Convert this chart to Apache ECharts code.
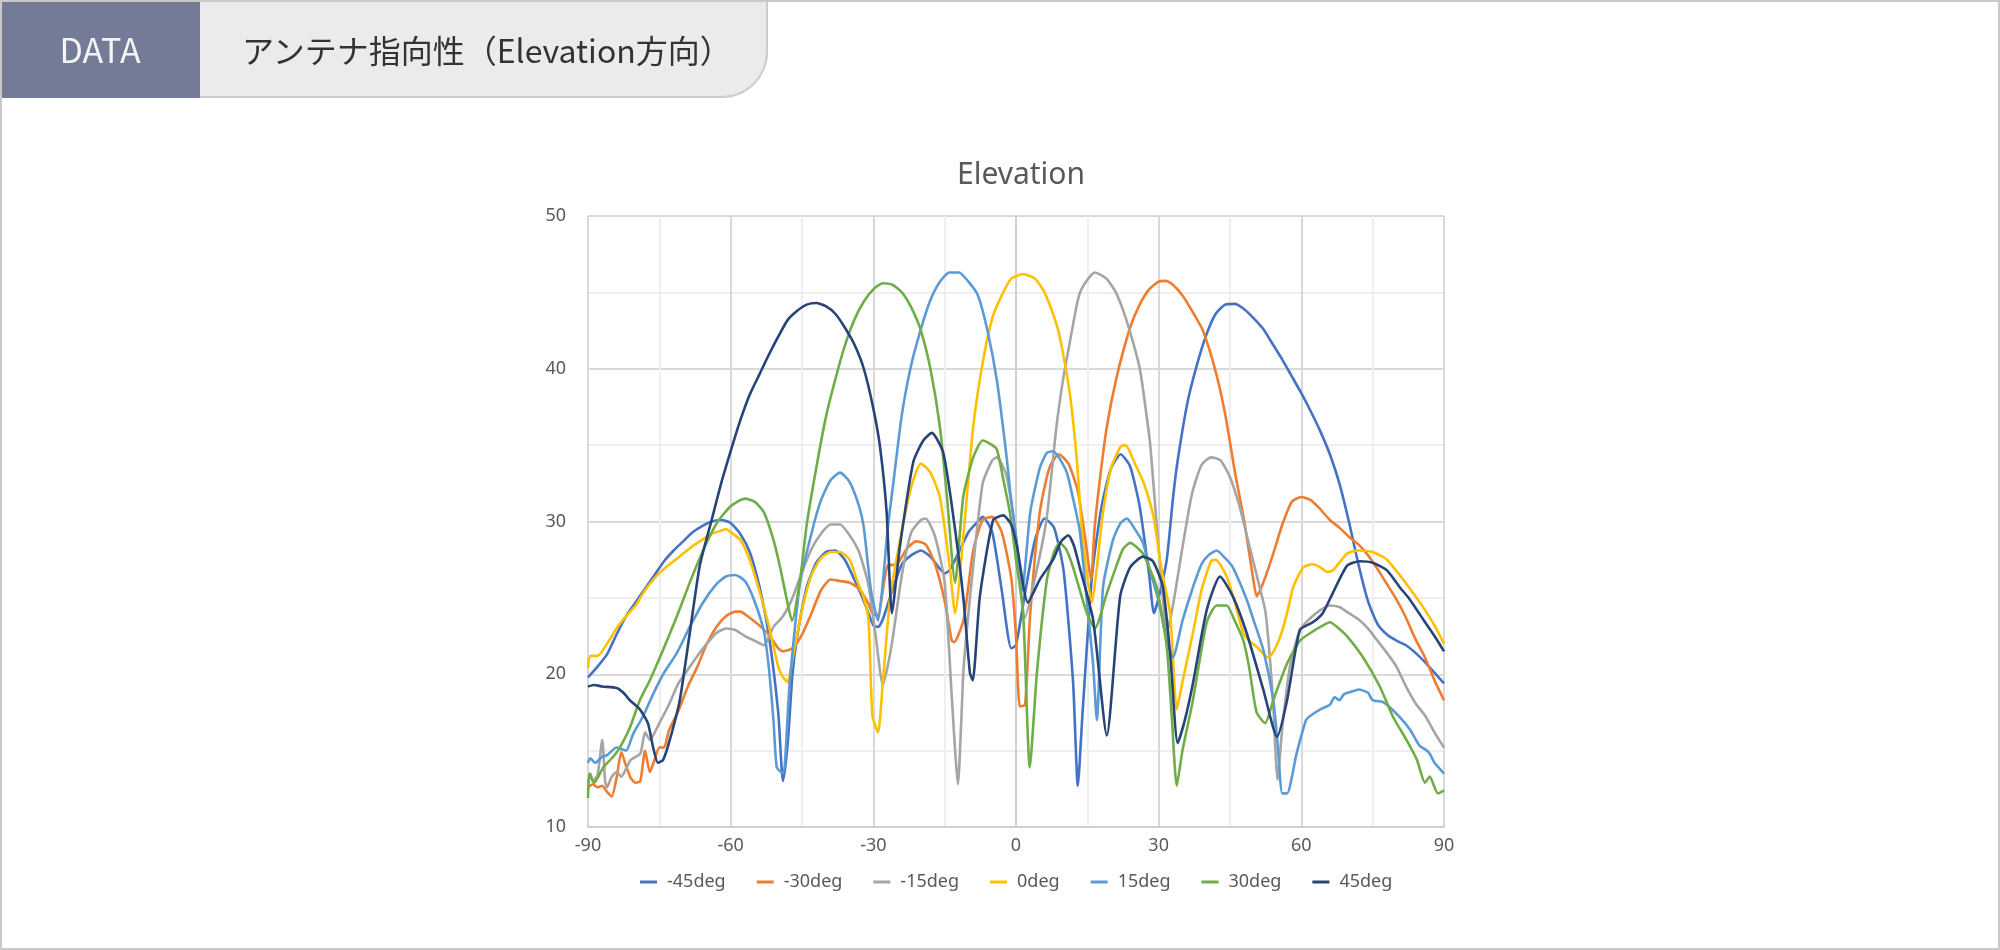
<!DOCTYPE html>
<html>
<head>
<meta charset="utf-8">
<title>アンテナ指向性（Elevation方向）</title>
<script src="https://cdn.jsdelivr.net/npm/echarts@6/dist/echarts.min.js"></script>
<style>
    html, body { margin: 0; padding: 0; background: #ffffff; }
    #page { position: relative; width: 2000px; height: 950px; overflow: hidden; }
    #chart { position: absolute; left: 0; top: 0; width: 2000px; height: 950px; }
    #frame { position: absolute; left: 0; top: 0; width: 2000px; height: 950px; box-sizing: border-box; border: 2px solid #c9c9c9; pointer-events: none; }
    #tab { position: absolute; left: 0; top: 0; width: 768px; height: 98px; box-sizing: border-box; background: #ebebeb;
           border-right: 2px solid #cbcbcb; border-bottom: 2px solid #cbcbcb; border-bottom-right-radius: 46px; }
    #tag { position: absolute; left: 0; top: 0; width: 200px; height: 98px; background: #737b96; color: #f4f4f4;
           font-family: "Noto Sans CJK JP", "Noto Sans", sans-serif; font-size: 34px; line-height: 98px; text-align: center; }
    #head { position: absolute; left: 242px; top: 0; height: 98px; line-height: 98px; color: #333333;
            font-family: "Noto Sans CJK JP", sans-serif; font-size: 32px; white-space: nowrap; }
</style>
</head>
<body>
<div id="page">
    <div id="chart"></div>
    <div id="tab"></div>
    <div id="tag">DATA</div>
    <div id="head">アンテナ指向性（Elevation方向）</div>
    <div id="frame"></div>
</div>
<script>
// 凡例の名前と色
var seriesNames = ['-45deg', '-30deg', '-15deg', '0deg', '15deg', '30deg', '45deg'];
var seriesColors = ['#4472c4', '#ed7d31', '#a5a5a5', '#ffc000', '#5b9bd5', '#70ad47', '#264478'];

// 各系列 [角度, 値]
var d_m45 = [[-90,19.8],[-88,20.5],[-86,21.3],[-84,22.6],[-82,23.8],[-80,24.7],[-78,25.6],[-76,26.5],[-74,27.4],[-72,28.1],[-70,28.7],[-68,29.3],[-66,29.7],[-64,30.0],[-62,30.1],[-60,29.9],[-58,29.2],[-56,28.0],[-54,25.8],[-52,22.6],[-50,17.5],[-49,13.0],[-48,15.5],[-47,20.0],[-46,22.5],[-44,25.7],[-42,27.3],[-40,28.0],[-38,28.1],[-36,27.5],[-34,26.2],[-32,24.8],[-30,23.2],[-29,23.1],[-28,23.6],[-26,25.5],[-24,27.2],[-22,27.8],[-20,28.1],[-18,27.7],[-16,26.9],[-15,26.6],[-14,26.8],[-12,28.0],[-10,29.3],[-8,30.0],[-7,30.3],[-5,29.3],[-3,25.5],[-1,21.7],[0,21.9],[2,25.5],[4,28.8],[6,30.2],[8,29.6],[10,26.8],[12,19.5],[13,12.7],[14,17.5],[16,26.5],[18,31.0],[20,33.5],[22,34.4],[24,33.6],[26,31.0],[28,26.5],[29,24.0],[30,25.0],[31.7,27.5],[33,31.5],[34,34.0],[36,37.7],[38,40.2],[40,42.2],[42,43.6],[44,44.2],[46,44.25],[48,43.9],[50,43.3],[52,42.6],[54,41.6],[56,40.6],[58,39.5],[60,38.4],[62,37.2],[64,35.9],[66,34.4],[68,32.5],[70,30.0],[72,27.2],[74,24.8],[76,23.3],[78,22.6],[80,22.2],[82,21.9],[84,21.4],[86,20.8],[88,20.1],[90,19.4]];

var d_m30 = [[-90,12.6],[-89,12.8],[-88,12.6],[-87,12.7],[-86,12.3],[-85,12.0],[-84,13.2],[-83,14.9],[-82,14.0],[-81,13.2],[-80,12.9],[-79,13.0],[-78,15.0],[-77,13.6],[-76,14.4],[-75,15.2],[-74,15.2],[-73,16.3],[-71,17.6],[-69,19.2],[-67,20.5],[-65,22.0],[-63,23.1],[-61,23.8],[-59,24.1],[-58,24.1],[-56,23.7],[-54,23.2],[-52,22.6],[-50,21.7],[-49,21.5],[-47,21.7],[-45,22.6],[-43,24.0],[-41,25.5],[-39,26.2],[-37,26.1],[-35,26.0],[-33,25.6],[-31,24.6],[-30,23.9],[-29,23.9],[-28,25.5],[-27,27.1],[-25,27.2],[-23,28.2],[-21,28.7],[-19,28.5],[-17,27.2],[-15,24.8],[-13.5,22.2],[-13,22.1],[-11,23.6],[-9,28.1],[-7,30.1],[-5,30.3],[-3,29.3],[-1,26.3],[0,22.5],[0.8,17.9],[1.9,18.0],[3,24.0],[5,30.6],[7,33.5],[9,34.4],[11,33.8],[13,32.0],[14.5,29.0],[15.8,26.2],[16.5,29.5],[17.7,32.9],[19.1,36.2],[21.2,39.5],[24,42.7],[26,44.2],[28,45.2],[30,45.7],[31.5,45.75],[33,45.5],[35,44.8],[37,43.8],[39.3,42.5],[42,39.8],[44,37.0],[46,33.3],[48,30.0],[50,26.0],[50.6,25.1],[52,26.0],[54,27.8],[56,29.8],[58,31.3],[60,31.6],[62,31.4],[64,30.8],[66,30.1],[68,29.6],[70,29.0],[72,28.5],[74,27.8],[76,26.9],[78,25.9],[80,24.9],[82,23.7],[84,22.3],[86,21.1],[88,19.6],[90,18.3]];

var d_m15 = [[-90,12.9],[-89.5,13.5],[-89,13.0],[-88,13.4],[-87,15.7],[-86.4,13.0],[-86,12.6],[-85,13.3],[-84,13.6],[-83,13.3],[-82,13.8],[-81,14.4],[-79,14.8],[-78,16.2],[-77,15.7],[-75,16.8],[-73,18.0],[-71,19.4],[-69,20.3],[-67,21.2],[-65,22.0],[-63,22.7],[-61,23.0],[-59,22.9],[-57,22.5],[-55,22.2],[-53,21.9],[-52,22.4],[-51,23.1],[-49,23.8],[-47,25.0],[-45,26.7],[-43,28.2],[-41,29.2],[-39,29.8],[-37,29.8],[-35,29.1],[-33,28.0],[-31,25.8],[-29.5,22.5],[-28,19.3],[-27,20.5],[-26,22.2],[-24,26.5],[-22,29.3],[-20,30.1],[-19,30.2],[-17,29.0],[-15,26.0],[-13.5,18.5],[-12.2,12.8],[-11.5,17.0],[-11,20.5],[-9,27.1],[-7,32.5],[-5,34.0],[-4,34.2],[-2,33.0],[0,29.0],[1.9,23.7],[4,26.3],[6.4,30.1],[8.5,36.2],[10,39.5],[11.3,41.7],[13,44.5],[14.1,45.4],[16.6,46.3],[19,45.9],[21,45.0],[23,43.4],[25,41.3],[26.1,39.9],[27,38.0],[28.2,35.1],[29.6,29.7],[30.5,26.5],[31.7,22.7],[33,24.5],[35,28.3],[37,31.8],[39,33.7],[41,34.2],[43,34.0],[45,32.9],[47,31.0],[49,28.5],[51,26.0],[52.5,24.0],[54,18.5],[55,13.1],[56,16.5],[57.6,20.5],[59.7,22.9],[62,23.7],[64,24.2],[66,24.5],[68,24.4],[70,24.0],[72,23.6],[74,23.0],[76,22.2],[78,21.4],[80,20.5],[82,19.2],[84,18.1],[86,17.3],[88,16.2],[90,15.2]];

var d_0 = [[-90,20.4],[-89.5,21.2],[-88,21.2],[-86,22.0],[-84,23.0],[-82,23.8],[-80,24.5],[-78,25.5],[-76,26.3],[-74,26.9],[-72,27.4],[-70,27.9],[-68,28.4],[-66,28.8],[-64,29.2],[-62,29.4],[-61,29.5],[-60,29.3],[-58,28.8],[-56,27.5],[-54,25.5],[-52,23.2],[-50,20.5],[-49,19.8],[-48,19.5],[-47,21.0],[-45,24.2],[-43,26.5],[-41,27.6],[-39,28.0],[-37,28.0],[-35,27.5],[-33.5,26.2],[-32,25.0],[-31,23.5],[-30.2,17.3],[-29,16.2],[-28,19.5],[-26.5,24.9],[-24.5,28.6],[-22,32.3],[-20,33.8],[-18,33.2],[-16,31.6],[-14,27.2],[-12.8,24.0],[-11,29.3],[-9,36.2],[-7,40.4],[-5,43.3],[-3,44.8],[-1,45.9],[1.5,46.2],[4,45.9],[6,45.0],[8,43.4],[9.2,42.1],[11.3,38.4],[12.8,34.0],[14.1,28.6],[16,24.7],[17,27.0],[18.3,30.6],[20,33.5],[22,34.9],[23,35.0],[25,33.8],[27,32.4],[29,30.2],[30.5,27.0],[32.4,24.0],[33.8,17.7],[35,19.5],[37.2,22.7],[39,25.5],[41,27.4],[42,27.5],[44.3,26.4],[46,24.7],[47.8,22.7],[49,22.2],[50.6,21.8],[53,21.1],[54,21.4],[55.5,22.4],[57,24.0],[58.3,25.7],[60.4,27.0],[62.4,27.2],[64,27.0],[65.4,26.7],[66.6,26.8],[68,27.3],[69.6,27.9],[72,28.1],[75,28.0],[78,27.5],[81.4,26.2],[84,25.1],[86,24.2],[88,23.2],[90,22.0]];

var d_p15 = [[-90,14.2],[-89.5,14.5],[-88.5,14.2],[-87,14.6],[-86,14.7],[-84,15.2],[-82,15.0],[-80.5,16.1],[-78.5,17.2],[-76.3,18.7],[-74.2,20.0],[-71.3,21.4],[-68.6,23.1],[-65.8,24.7],[-63,25.9],[-61,26.4],[-59,26.5],[-57,26.1],[-55,24.8],[-53,22.8],[-52,20.5],[-51,17.0],[-50.3,13.9],[-49,13.5],[-47.6,19.4],[-45.4,26.0],[-42.7,29.6],[-41,31.4],[-39,32.7],[-37,33.2],[-35,32.6],[-33,31.0],[-32,29.6],[-30.5,25.5],[-29,23.5],[-28,26.0],[-27,29.5],[-26,32.0],[-24,37.0],[-22,40.3],[-20,42.6],[-18,44.5],[-16,45.7],[-14,46.3],[-12,46.3],[-10,45.7],[-8,44.8],[-6,42.5],[-4,39.2],[-2,34.3],[-1.2,31.9],[0,29.0],[1.3,25.5],[3,30.6],[5,33.5],[6.5,34.5],[7.8,34.6],[9,34.2],[10.7,33.2],[12,31.5],[13.4,29.4],[15,24.5],[16.2,20.7],[17,17.0],[18.3,25.7],[20.4,28.8],[22,29.9],[23.3,30.2],[25,29.5],[26.7,28.6],[28,27.0],[30,24.8],[31.5,22.5],[33,21.1],[35,23.5],[37,25.5],[39,27.2],[40.5,27.8],[42.2,28.1],[44,27.6],[45.6,27.0],[48.5,24.9],[50,23.5],[52,21.6],[54.1,18.3],[55,15.5],[56,12.2],[57,12.2],[59,14.8],[61,17.0],[62,17.3],[64,17.7],[66,18.0],[67,18.5],[68,18.3],[69,18.7],[71,18.9],[72,19.0],[74,18.8],[75,18.3],[77,18.2],[78,18.0],[80.7,17.2],[82.8,16.4],[84.9,15.3],[86,15.1],[87,14.8],[88,14.2],[90,13.5]];

var d_p30 = [[-90,11.9],[-89.7,13.5],[-88.7,12.9],[-86.8,13.9],[-84.7,14.6],[-83.3,15.2],[-81.2,16.5],[-79.1,18.3],[-77,19.6],[-74.2,21.6],[-71.3,23.8],[-68.6,26.0],[-65.8,28.1],[-62.9,29.9],[-60,31.0],[-57,31.5],[-55,31.3],[-53,30.6],[-51,28.8],[-49.6,27.0],[-48.2,24.9],[-47.1,23.5],[-45.4,26.2],[-44,29.8],[-42,33.5],[-40,36.8],[-38,39.3],[-36,41.5],[-34,43.2],[-32,44.4],[-30,45.2],[-28,45.6],[-26,45.5],[-24,45.0],[-22,44.0],[-20,42.5],[-18,40.0],[-16,36.2],[-14.6,31.9],[-12.8,26.0],[-11.1,31.6],[-9,34.2],[-7,35.3],[-5,35.0],[-4,34.7],[-2.5,32.5],[-1.3,30.6],[0,27.5],[1.5,24.0],[2.9,13.9],[4.4,20.1],[6.5,26.2],[8,28.0],[9.2,28.6],[10.5,28.2],[12,27.0],[14.9,24.0],[16.6,23.0],[19.1,25.3],[21,27.0],[22.5,28.2],[24,28.6],[26.7,27.9],[28,27.0],[29.6,25.7],[31.7,21.8],[32.8,17.0],[33.8,12.7],[35,15.0],[37.2,18.3],[40.1,23.4],[42.2,24.5],[44.3,24.5],[46,23.5],[47.8,22.2],[49,20.5],[50.6,17.5],[52.4,16.8],[54.1,18.3],[57,20.7],[59.7,22.2],[62.4,22.8],[64,23.1],[66,23.4],[67.5,23.1],[69.6,22.5],[73,21.1],[76.5,19.2],[79.3,17.2],[82.1,15.7],[84.3,14.4],[86,12.9],[87,13.3],[88.7,12.2],[90,12.4]];

var d_p45 = [[-90,19.2],[-88.7,19.3],[-87,19.2],[-84,19.1],[-82.6,18.8],[-81.2,18.3],[-79.1,17.7],[-77.4,16.8],[-76.3,15.2],[-75.3,14.2],[-74.2,14.4],[-72.8,15.7],[-70.7,18.3],[-68.6,22.7],[-66.5,27.1],[-64,30.1],[-62,32.5],[-60,34.6],[-58,36.6],[-56,38.3],[-54,39.6],[-52,40.9],[-50,42.1],[-48,43.2],[-46,43.8],[-44,44.2],[-42,44.3],[-40,44.1],[-38,43.6],[-36,42.7],[-34,41.6],[-32,40.0],[-30,37.4],[-28.6,34.9],[-27.2,30.6],[-26.1,24.0],[-24.4,28.4],[-21.6,33.9],[-19.5,35.3],[-17.7,35.8],[-15.3,34.5],[-13.3,30.6],[-11.1,25.1],[-9.7,20.1],[-9.1,19.6],[-7.6,25.1],[-4.8,30.1],[-2.7,30.4],[-1,29.8],[0.2,28.4],[2.5,24.7],[5,26.2],[7.8,27.5],[9.5,28.7],[11,29.1],[12.2,28.4],[13.4,27.0],[16.2,23.6],[19.1,16.0],[21.9,25.1],[24,27.0],[26.7,27.7],[28.8,27.4],[30.9,25.7],[32.5,21.0],[34,15.5],[35.5,17.0],[37.2,19.4],[40.1,24.2],[42.9,26.4],[45.6,25.1],[48.5,22.7],[52,19.0],[54.9,15.9],[57,18.3],[59.7,22.9],[62.4,23.4],[64.5,24.0],[66.6,25.3],[69.6,27.1],[72.3,27.4],[75,27.3],[78,26.8],[80.7,25.7],[82.8,24.9],[85.6,23.6],[88,22.5],[90,21.5]];

var seriesData = [d_m45, d_m30, d_m15, d_0, d_p15, d_p30, d_p45];

// 軸の範囲
var xMin = -90, xMax = 90, xStep = 30;
var yMin = 10, yMax = 50, yStep = 10;

var chart = echarts.init(document.getElementById('chart'));

var series = [];
for (var i = 0; i < seriesNames.length; i++) {
    series.push({
        name: seriesNames[i],
        type: 'line',
        data: seriesData[i],
        showSymbol: false,
        symbol: 'none',
        smooth: 0.2,
        lineStyle: { width: 2.6, color: seriesColors[i] },
        itemStyle: { color: seriesColors[i] },
        animation: false
    });
}

var axisFont = { color: '#595959', fontSize: 18, fontFamily: 'Noto Sans, sans-serif' };

var option = {
    animation: false,
    title: {
        text: 'Elevation',
        left: 1016,
        top: 155,
        textAlign: 'center',
        textStyle: { color: '#595959', fontSize: 30, fontWeight: 'normal', fontFamily: 'Noto Sans, sans-serif' }
    },
    legend: {
        data: seriesNames,
        left: 635,
        top: 868,
        icon: 'rect',
        itemWidth: 17,
        itemHeight: 3,
        itemGap: 31,
        textStyle: { color: '#595959', fontSize: 18, fontFamily: 'Noto Sans, sans-serif', padding: [0, 0, 0, 5] }
    },
    grid: { left: 588, top: 216, width: 856, height: 611, containLabel: false },
    xAxis: {
        type: 'value',
        min: xMin,
        max: xMax,
        interval: xStep,
        axisLine: { show: true, lineStyle: { color: '#d0d0d0', width: 2 } },
        axisTick: { show: false },
        axisLabel: Object.assign({ margin: 10 }, axisFont),
        splitLine: { show: true, lineStyle: { color: '#d9d9d9', width: 2 } },
        minorTick: { show: false, splitNumber: 2 },
        minorSplitLine: { show: true, lineStyle: { color: '#efefef', width: 2 } }
    },
    yAxis: {
        type: 'value',
        min: yMin,
        max: yMax,
        interval: yStep,
        axisLine: { show: true, lineStyle: { color: '#d0d0d0', width: 2 } },
        axisTick: { show: false },
        axisLabel: Object.assign({ margin: 22 }, axisFont),
        splitLine: { show: true, lineStyle: { color: '#d9d9d9', width: 2 } },
        minorTick: { show: false, splitNumber: 2 },
        minorSplitLine: { show: true, lineStyle: { color: '#efefef', width: 2 } }
    },
    series: series
};
chart.setOption(option);
</script>
</body>
</html>
